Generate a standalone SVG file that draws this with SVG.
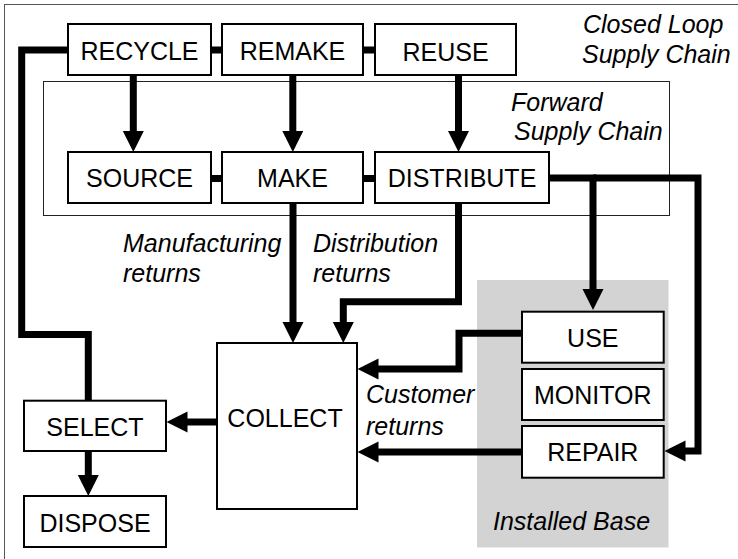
<svg xmlns="http://www.w3.org/2000/svg" width="738" height="559" viewBox="0 0 738 559">
<style>
.box{fill:#fff;stroke:#000;stroke-width:2}
.lbl{font-family:"Liberation Sans",Arial,sans-serif;font-size:25px;fill:#000;text-anchor:middle}
.it{font-family:"Liberation Sans",Arial,sans-serif;font-size:25px;font-style:italic;fill:#000}
.c{fill:none;stroke:#000;stroke-width:7;stroke-linejoin:miter}
</style>
<defs>
<marker id="ah" markerUnits="userSpaceOnUse" markerWidth="22" markerHeight="22" refX="1" refY="10.5" orient="auto">
<path d="M0,0 L21,10.5 L0,21 z" fill="#000"/>
</marker>
</defs>
<rect x="4.5" y="4.5" width="740" height="560" fill="#fff" stroke="#555" stroke-width="1"/>
<rect id="forward-chain" x="43.5" y="81.5" width="626" height="134" fill="none" stroke="#222" stroke-width="1"/>
<rect id="installed-base" x="477" y="280" width="191.5" height="267.5" fill="#d3d3d3"/>
<text class="it" x="583" y="33">Closed Loop</text>
<text class="it" x="582" y="63">Supply Chain</text>
<text class="it" x="511" y="111">Forward</text>
<text class="it" x="514" y="140">Supply Chain</text>
<text class="it" x="493" y="530">Installed Base</text>
<text class="it" x="123" y="252">Manufacturing</text>
<text class="it" x="123" y="282">returns</text>
<text class="it" x="313" y="252">Distribution</text>
<text class="it" x="313" y="282">returns</text>
<text class="it" x="366" y="403">Customer</text>
<text class="it" x="366" y="435">returns</text>
<g id="connectors">
<path class="c" d="M211,50 H222"/>
<path class="c" d="M363,50 H375"/>
<path class="c" d="M211,178.5 H222"/>
<path class="c" d="M363,178.5 H375"/>
<path class="c" d="M133.3,75 V132" marker-end="url(#ah)"/>
<path class="c" d="M292.8,75 V132" marker-end="url(#ah)"/>
<path class="c" d="M458.5,75 V132" marker-end="url(#ah)"/>
<path class="c" d="M293,203 V323" marker-end="url(#ah)"/>
<path class="c" d="M458.5,203 V301.7 H343.3 V323" marker-end="url(#ah)"/>
<path class="c" d="M549,178 H593 V290" marker-end="url(#ah)"/>
<path class="c" d="M593,178 H698 V451 H684.5" marker-end="url(#ah)"/>
<path class="c" d="M522,333.3 H459 V369 H377.5" marker-end="url(#ah)"/>
<path class="c" d="M522,452 H377.5" marker-end="url(#ah)"/>
<path class="c" d="M217,422 H186.5" marker-end="url(#ah)"/>
<path class="c" d="M88.3,451 V476" marker-end="url(#ah)"/>
<path class="c" d="M68,50 H21.7 V334.5 H88.3 V401"/>
</g>
<g id="recycle"><rect class="box" x="68" y="24" width="143" height="51"/><text class="lbl" x="139.5" y="60">RECYCLE</text></g>
<g id="remake"><rect class="box" x="222" y="24" width="141" height="51"/><text class="lbl" x="292.5" y="60">REMAKE</text></g>
<g id="reuse"><rect class="box" x="375" y="24" width="141" height="51"/><text class="lbl" x="445.5" y="60.5">REUSE</text></g>
<g id="source"><rect class="box" x="68" y="152" width="143" height="51"/><text class="lbl" x="139.5" y="187">SOURCE</text></g>
<g id="make"><rect class="box" x="222" y="152" width="141" height="51"/><text class="lbl" x="292.5" y="187">MAKE</text></g>
<g id="distribute"><rect class="box" x="375" y="152" width="174" height="51"/><text class="lbl" x="462" y="187">DISTRIBUTE</text></g>
<g id="use"><rect class="box" x="522" y="311.7" width="141.7" height="51"/><text class="lbl" x="592.8" y="347.3">USE</text></g>
<g id="monitor"><rect class="box" x="522" y="369" width="141.7" height="51"/><text class="lbl" x="592.8" y="404">MONITOR</text></g>
<g id="repair"><rect class="box" x="522" y="426" width="141.7" height="51.7"/><text class="lbl" x="592.8" y="460.7">REPAIR</text></g>
<g id="collect"><rect class="box" x="217" y="343" width="140" height="166"/><text class="lbl" x="285" y="426.5">COLLECT</text></g>
<g id="select"><rect class="box" x="24" y="400.7" width="142" height="50.3"/><text class="lbl" x="95" y="436">SELECT</text></g>
<g id="dispose"><rect class="box" x="24" y="496" width="142" height="51"/><text class="lbl" x="95" y="531.7">DISPOSE</text></g>
</svg>
